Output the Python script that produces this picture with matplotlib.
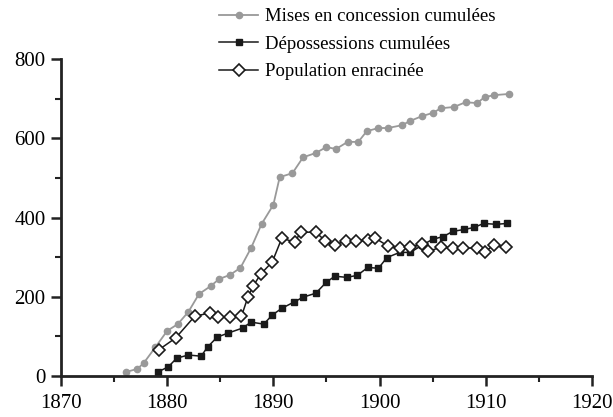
import numpy as np
import matplotlib.pyplot as plt
from matplotlib.ticker import MultipleLocator

plt.rcParams['font.family'] = ['Liberation Serif', 'DejaVu Serif']

# Mises en concession cumulées
conc_years = [1876.1, 1877.2, 1877.8, 1878.9, 1880.0, 1881.0, 1882.0, 1883.0, 1884.1,
              1884.9, 1885.9, 1886.9, 1887.9, 1888.9, 1890.0, 1890.6, 1891.8, 1892.8,
              1894.0, 1895.0, 1895.9, 1897.0, 1898.0, 1898.8, 1899.9, 1900.8, 1902.1,
              1902.9, 1904.0, 1905.0, 1905.8, 1907.0, 1908.1, 1909.2, 1909.9, 1910.8, 1912.2]
conc_vals = [10, 18, 33, 73, 114, 131, 162, 207, 227, 245, 255, 273, 323, 384, 432, 502,
             512, 552, 563, 578, 573, 591, 591, 618, 626, 626, 633, 644, 656, 664, 676,
             679, 691, 689, 704, 709, 712]

# Dépossessions cumulées
dep_years = [1879.1, 1880.1, 1880.9, 1882.0, 1883.2, 1883.8, 1884.7, 1885.7, 1887.1,
             1887.9, 1889.1, 1889.9, 1890.8, 1891.9, 1892.8, 1894.0, 1895.0, 1895.8,
             1896.9, 1897.9, 1898.9, 1899.9, 1900.7, 1901.9, 1902.9, 1904.0, 1905.0,
             1906.0, 1906.9, 1908.0, 1908.9, 1909.8, 1911.0, 1912.0]
dep_vals = [10, 23, 45, 53, 50, 73, 98, 108, 121, 136, 131, 154, 171, 186, 199, 209, 237,
            252, 249, 254, 274, 272, 299, 312, 312, 330, 345, 352, 365, 370, 375, 385,
            383, 385]

# Population enracinée
pop_years = [1879.2, 1880.8, 1882.6, 1884.0, 1884.8, 1885.9, 1887.0, 1887.6, 1888.1,
             1888.8, 1889.9, 1890.8, 1892.0, 1892.6, 1894.0, 1894.9, 1895.8, 1896.8,
             1897.8, 1898.9, 1899.6, 1900.8, 1901.9, 1902.9, 1904.0, 1904.6, 1905.8,
             1906.9, 1907.9, 1909.2, 1909.9, 1910.8, 1911.9]
pop_vals = [66, 96, 151, 159, 149, 149, 151, 199, 227, 257, 288, 348, 338, 363, 363, 341,
            331, 341, 341, 343, 348, 328, 323, 325, 333, 315, 325, 323, 323, 323, 313,
            331, 325]

fig = plt.figure(figsize=(6.13, 4.17), dpi=100)
ax = fig.add_axes([0.0995, 0.0983, 0.866, 0.760])

l1, = ax.plot(conc_years, conc_vals, color='#999999', lw=1.3, marker='o',
              markersize=4.5, label='Mises en concession cumulées')
l2, = ax.plot(dep_years, dep_vals, color='#1a1a1a', lw=1.1, marker='s',
              markersize=5, label='Dépossessions cumulées')
l3, = ax.plot(pop_years, pop_vals, color='#1a1a1a', lw=1.1, marker='D',
              markersize=6, markerfacecolor='white', markeredgewidth=1.2,
              label='Population enracinée', zorder=3)

ax.set_xlim(1870, 1920)
ax.set_ylim(0, 800)
ax.xaxis.set_major_locator(MultipleLocator(10))
ax.xaxis.set_minor_locator(MultipleLocator(5))
ax.yaxis.set_major_locator(MultipleLocator(200))
ax.yaxis.set_minor_locator(MultipleLocator(100))

for s in ['top', 'right']:
    ax.spines[s].set_visible(False)
for s in ['left', 'bottom']:
    ax.spines[s].set_linewidth(2)
    ax.spines[s].set_color('#222222')

ax.tick_params(which='major', direction='out', length=7, width=1.8, color='#222222',
               labelsize=15, pad=4)
ax.tick_params(which='minor', direction='out', length=4, width=1.5, color='#222222')
ax.tick_params(axis='x', which='major', pad=6)

fig.legend(handles=[l1, l2, l3], loc='upper left', bbox_to_anchor=(0.345, 0.998),
           frameon=False, fontsize=13.5, handlelength=2.1, handletextpad=0.35,
           labelspacing=0.55, borderaxespad=0)

fig.savefig('out.png', dpi=100)
